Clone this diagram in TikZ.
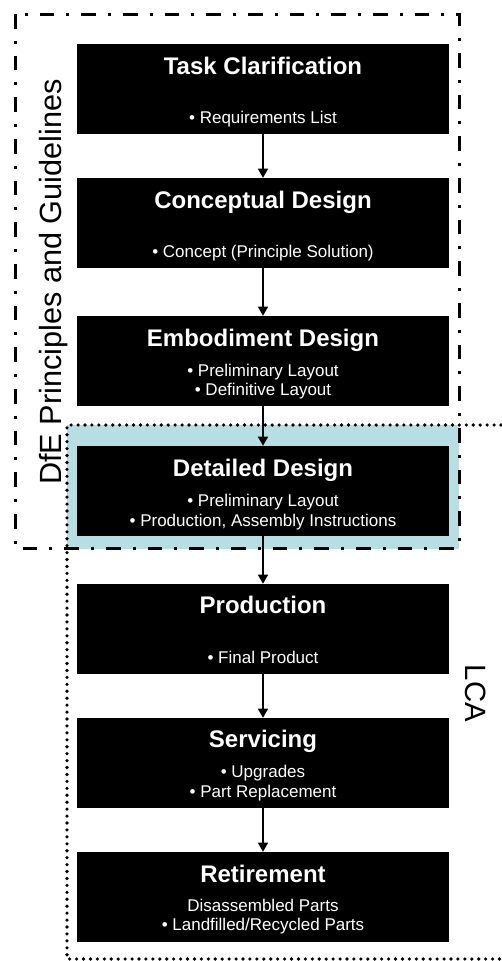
\documentclass[tikz,border=0pt]{standalone}
\usepackage{fontspec}
\setmainfont{Liberation Sans}
\usetikzlibrary{arrows.meta}
\definecolor{dfeblue}{RGB}{183,222,226}
\tikzset{
  stage/.style={fill=black, draw=none, inner sep=0pt,
    minimum width=279pt, minimum height=67.5pt},
  stagetitle/.style={text=white, anchor=base, inner sep=0pt,
    font=\fontsize{18}{20}\selectfont\bfseries},
  stageitem/.style={text=white, anchor=base, inner sep=0pt,
    font=\fontsize{12.75}{15}\selectfont},
  flow/.style={line width=1pt, -{Triangle[length=6.75pt,width=7.5pt]}},
  dfeframe/.style={line width=2.25pt,
    dash pattern=on 11pt off 9pt on 2.25pt off 9pt},
  lcaframe/.style={line width=2.7pt, line cap=round,
    dash pattern=on 0pt off 5.2pt},
  sidelabel/.style={anchor=base, inner sep=0pt}
}
\begin{document}
\begin{tikzpicture}[x=0.75pt, y=-0.75pt]
\useasboundingbox (0,0) rectangle (501,961);

% highlighted overlap of the two scopes
\fill[dfeblue] (67,425) rectangle (459,549);

% DfE scope (dash-dot) and LCA scope (dotted, open on the right)
\draw[dfeframe] (15,14) rectangle (459,548);
\draw[lcaframe] (501,425) -- (67,425) -- (67,959) -- (501,959);

% stages
\node[stage] (b1) at (263,89)  {};
\node[stage] (b2) at (263,223) {};
\node[stage] (b3) at (263,361) {};
\node[stage] (b4) at (263,491) {};
\node[stage] (b5) at (263,629) {};
\node[stage] (b6) at (263,763) {};
\node[stage] (b7) at (263,897) {};

\node[stagetitle] (t1) at (263,74) {Task Clarification};
\node[stageitem] (i1) at (263,123) {• Requirements List};

\node[stagetitle] (t2) at (263,208) {Conceptual Design};
\node[stageitem] (i2) at (263,257) {• Concept (Principle Solution)};

\node[stagetitle] (t3) at (263,346) {Embodiment Design};
\node[stageitem] (i3a) at (263,376) {• Preliminary Layout};
\node[stageitem] (i3b) at (263,395) {• Definitive Layout};

\node[stagetitle] (t4) at (263,476) {Detailed Design};
\node[stageitem] (i4a) at (263,506) {• Preliminary Layout};
\node[stageitem] (i4b) at (263,526) {• Production, Assembly Instructions};

\node[stagetitle] (t5) at (263,613) {Production};
\node[stageitem] (i5) at (263,663) {• Final Product};

\node[stagetitle] (t6) at (263,747) {Servicing};
\node[stageitem] (i6a) at (263,777) {• Upgrades};
\node[stageitem] (i6b) at (263,797) {• Part Replacement};

\node[stagetitle] (t7) at (263,882) {Retirement};
\node[stageitem] (i7a) at (263,911) {Disassembled Parts};
\node[stageitem] (i7b) at (263,930) {• Landfilled/Recycled Parts};

% flow between stages
\draw[flow] (b1.south) -- (b2.north);
\draw[flow] (b2.south) -- (b3.north);
\draw[flow] (b3.south) -- (b4.north);
\draw[flow] (b4.south) -- (b5.north);
\draw[flow] (b5.south) -- (b6.north);
\draw[flow] (b6.south) -- (b7.north);

% scope labels
\node[sidelabel, rotate=90, font=\fontsize{23}{25}\selectfont]
  (dfe) at (61,282) {DfE Principles and Guidelines};
\node[sidelabel, rotate=-90, font=\fontsize{22}{24}\selectfont]
  (lca) at (465,693.5) {LCA};
\end{tikzpicture}
\end{document}
